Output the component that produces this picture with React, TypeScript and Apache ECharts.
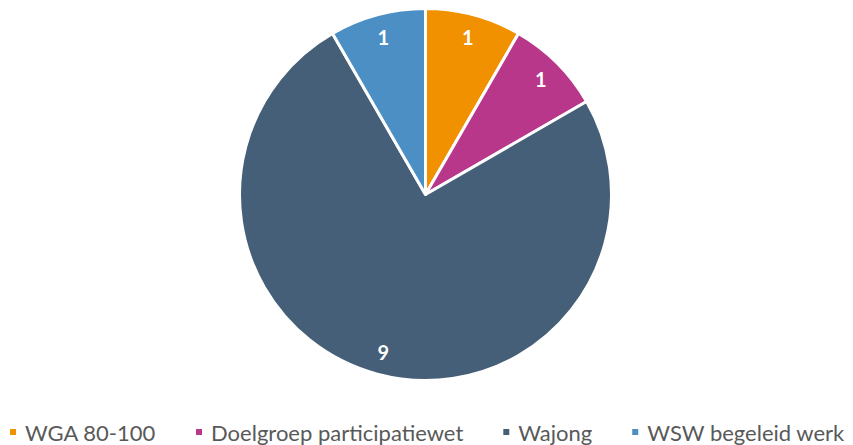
import React, { useEffect, useRef } from "react";
import * as echarts from "echarts";

const categories = ["WGA 80-100", "Doelgroep participatiewet", "Wajong", "WSW begeleid werk"];
const values = [1, 1, 9, 1];
const colors = ["#F29100", "#B9378A", "#465F79", "#4B8FC4"];

export default function App() {
  const ref = useRef<HTMLDivElement>(null);
  useEffect(() => {
    document.body.style.margin = "0";
    const chart = echarts.init(ref.current!, null, { renderer: "svg" });
    const data = categories.map((name, i) => ({ name, value: values[i] }));
    chart.setOption({
      animation: false,
      color: colors,
      legend: {
        bottom: 0,
        left: "center",
        width: 853,
        padding: [0, 0, 0, 0],
        itemWidth: 8,
        itemHeight: 8,
        itemGap: 38,
        icon: "rect",
        textStyle: {
          fontFamily: "Lato",
          fontSize: 22,
          lineHeight: 26,
          color: "#595959",
          padding: [0, 0, 0, 3],
        },
        data: categories,
      },
      series: [
        {
          type: "pie",
          center: [425.5, 194.5],
          radius: [0, 186],
          startAngle: 90,
          clockwise: true,
          data,
          itemStyle: { borderColor: "#fff", borderWidth: 3 },
          label: { show: false },
          labelLine: { show: false },
          emphasis: { disabled: true },
        },
        {
          type: "pie",
          center: [425.5, 194.5],
          radius: [150, 170],
          startAngle: 90,
          clockwise: true,
          silent: true,
          data,
          itemStyle: { color: "transparent", borderWidth: 0 },
          label: {
            show: true,
            position: "inside",
            formatter: "{c}",
            color: "#fff",
            fontFamily: "Lato",
            fontWeight: "bold",
            fontSize: 20,
          },
          labelLine: { show: false },
          emphasis: { disabled: true },
        },
      ],
    });
    return () => chart.dispose();
  }, []);
  return <div ref={ref} style={{ width: 853, height: 445 }} />;
}
